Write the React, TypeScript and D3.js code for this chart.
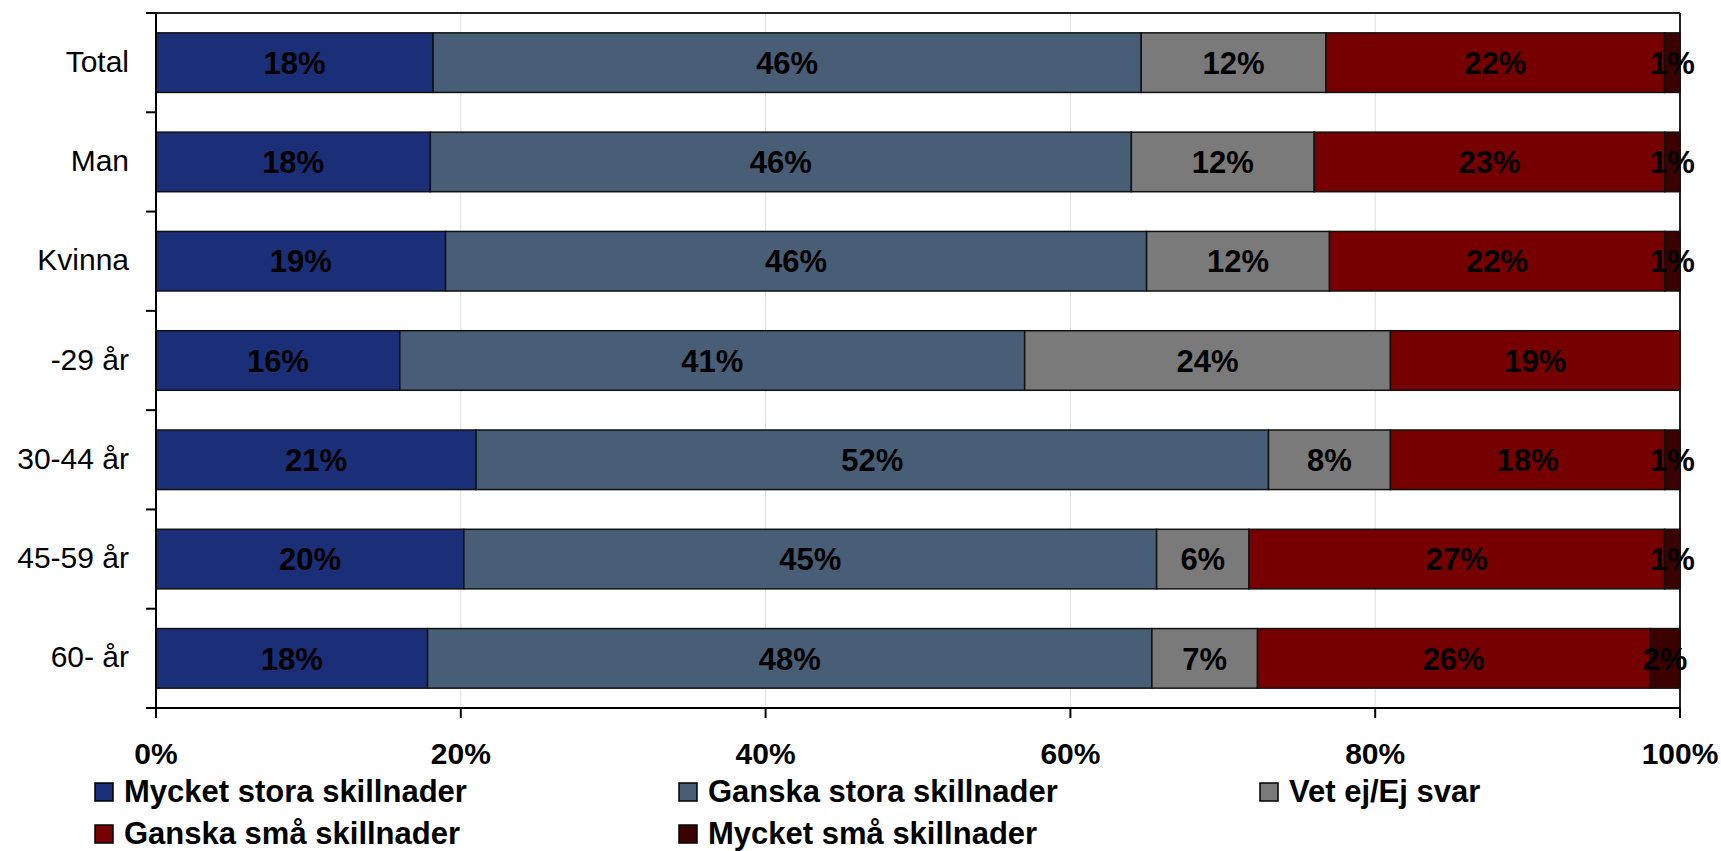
import React from 'react';
import * as d3 from 'd3';

const categories = ['Total', 'Man', 'Kvinna', '-29 år', '30-44 år', '45-59 år', '60- år'];
const seriesNames = [
  'Mycket stora skillnader',
  'Ganska stora skillnader',
  'Vet ej/Ej svar',
  'Ganska små skillnader',
  'Mycket små skillnader',
];
const mycketStora = [18, 18, 19, 16, 21, 20, 18];
const ganskaStora = [46, 46, 46, 41, 52, 45, 48];
const vetEj = [12, 12, 12, 24, 8, 6, 7];
const ganskaSma = [22, 23, 22, 19, 18, 27, 26];
const mycketSma = [1, 1, 1, 0, 1, 1, 2];
const xTicks = [0, 0.2, 0.4, 0.6, 0.8, 1];
const colors = ['#1B2E78', '#485D76', '#7A7A7A', '#760000', '#3B0000'];

const W = 1721;
const H = 851;
const M = { left: 156, right: 1680, top: 13, bottom: 708 };
const FONT = '"Liberation Sans", Arial, Helvetica, sans-serif';

export default function App() {
  const seriesArrays = [mycketStora, ganskaStora, vetEj, ganskaSma, mycketSma];
  const rows = categories.map((c, i) => {
    const o: any = { cat: c };
    seriesNames.forEach((s, k) => (o[s] = seriesArrays[k][i]));
    return o;
  });
  const stacked = d3.stack<any>().keys(seriesNames).offset(d3.stackOffsetExpand)(rows);

  const x = d3.scaleLinear().domain([0, 1]).range([M.left, M.right]);
  const y = d3.scaleBand<string>().domain(categories).range([M.top, M.bottom]).paddingInner(0.4).paddingOuter(0.2);
  const step = y.step();
  const boundaries = d3.range(categories.length + 1).map((i) => M.top + i * step);

  const legendCols = [95, 679, 1260];
  const legendRows = [802, 844];

  return (
    <svg width={W} height={H} style={{ position: 'absolute', left: 0, top: 0, background: '#fff' }} fontFamily={FONT}>
      {/* gridlines */}
      {xTicks.slice(1, -1).map((t) => (
        <line key={'g' + t} x1={x(t)} x2={x(t)} y1={M.top} y2={M.bottom} stroke="#dedede" strokeWidth={1} />
      ))}
      {/* frame top/right */}
      <line x1={M.left} x2={M.right} y1={M.top} y2={M.top} stroke="#222" strokeWidth={2} />
      <line x1={M.right} x2={M.right} y1={M.top} y2={M.bottom} stroke="#222" strokeWidth={2} />

      {/* bars */}
      {stacked.map((s, k) => (
        <g key={s.key}>
          {s.map((d, i) => {
            const x0 = x(d[0]);
            const x1 = x(d[1]);
            if (x1 - x0 <= 0) return null;
            return (
              <rect
                key={i}
                x={x0}
                y={y(categories[i])!}
                width={x1 - x0}
                height={y.bandwidth()}
                fill={colors[k]}
                stroke="#111"
                strokeWidth={1.5}
              />
            );
          })}
        </g>
      ))}

      {/* bar labels */}
      {stacked.map((s, k) => (
        <g key={'l' + s.key}>
          {s.map((d, i) => {
            const v = seriesArrays[k][i];
            if (!v) return null;
            return (
              <text
                key={i}
                x={(x(d[0]) + x(d[1])) / 2}
                y={y(categories[i])! + y.bandwidth() / 2}
                dy="0.36em"
                textAnchor="middle"
                fontSize={31}
                fontWeight="bold"
                fill="#000"
              >
                {v + '%'}
              </text>
            );
          })}
        </g>
      ))}

      {/* y axis */}
      <line x1={M.left} x2={M.left} y1={M.top} y2={M.bottom} stroke="#000" strokeWidth={2} />
      {boundaries.map((b, i) => (
        <line key={'yt' + i} x1={M.left - 10} x2={M.left} y1={b} y2={b} stroke="#000" strokeWidth={2} />
      ))}
      {categories.map((c) => (
        <text
          key={'c' + c}
          x={129}
          y={y(c)! + y.bandwidth() / 2}
          dy="0.3em"
          textAnchor="end"
          fontSize={30}
          fill="#000"
        >
          {c}
        </text>
      ))}

      {/* x axis */}
      <line x1={M.left - 10} x2={M.right} y1={M.bottom} y2={M.bottom} stroke="#000" strokeWidth={2} />
      {xTicks.map((t) => (
        <g key={'xt' + t}>
          <line x1={x(t)} x2={x(t)} y1={M.bottom} y2={M.bottom + 10} stroke="#000" strokeWidth={2} />
          <text x={x(t)} y={764} textAnchor="middle" fontSize={30} fontWeight="bold" fill="#000">
            {d3.format('.0%')(t)}
          </text>
        </g>
      ))}

      {/* legend */}
      {seriesNames.map((s, k) => {
        const col = k % 3;
        const row = Math.floor(k / 3);
        const lx = legendCols[col];
        const ly = legendRows[row];
        return (
          <g key={'lg' + s}>
            <rect x={lx} y={ly - 19} width={18} height={18} fill={colors[k]} stroke="#000" strokeWidth={1.5} />
            <text x={lx + 29} y={ly} fontSize={31} fontWeight="bold" fill="#000">
              {s}
            </text>
          </g>
        );
      })}
    </svg>
  );
}
